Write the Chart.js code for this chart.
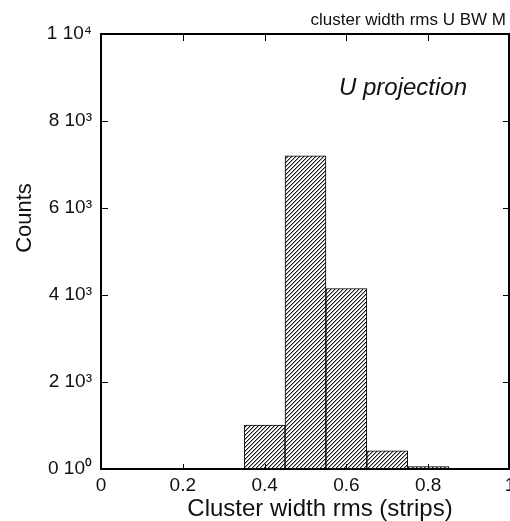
<!DOCTYPE html>
<html>
<head>
<meta charset="utf-8">
<script src="https://cdn.jsdelivr.net/npm/chart.js@4"></script>
<style>
  html, body { margin: 0; padding: 0; background: #fff; }
  #wrap { width: 510px; height: 521px; overflow: hidden; position: relative; }
  canvas { display: block; }
</style>
</head>
<body>
<div id="wrap"><canvas id="c" width="530" height="521"></canvas></div>
<script>
// ---- data ----
const binCenters = [0.4, 0.5, 0.6, 0.7, 0.8];
const counts = [1010, 7200, 4150, 415, 55];
const xTickValues = [0, 0.2, 0.4, 0.6, 0.8, 1];
const xTickLabels = ['0', '0.2', '0.4', '0.6', '0.8', '1'];
const yTickValues = [0, 2000, 4000, 6000, 8000, 10000];
const yTickLabels = ['0 10\u2070', '2 10\u00B3', '4 10\u00B3', '6 10\u00B3', '8 10\u00B3', '1 10\u2074'];
const chartTitle = 'cluster width rms U BW M';
const annotationText = 'U projection';
const xTitle = 'Cluster width rms (strips)';
const yTitle = 'Counts';

// hatch pattern ("/" diagonal lines)
function makeHatch() {
  const s = 4;
  const p = document.createElement('canvas');
  p.width = s; p.height = s;
  const g = p.getContext('2d');
  g.fillStyle = '#fff';
  g.fillRect(0, 0, s, s);
  for (let x = 0; x < s; x++) {
    for (let y = 0; y < s; y++) {
      const k = (x + y) % s;
      if (k === 3) { g.fillStyle = '#1a1a1a'; g.fillRect(x, y, 1, 1); }
      else if (k === 0) { g.fillStyle = '#a0a0a0'; g.fillRect(x, y, 1, 1); }
    }
  }
  return g.createPattern(p, 'repeat');
}
const ctx = document.getElementById('c').getContext('2d');
const hatch = makeHatch();

const FONT = '"Liberation Sans", Arial, Helvetica, sans-serif';

const framePlugin = {
  id: 'frame',
  afterDatasetsDraw(chart) {
    const { ctx, chartArea: a, scales } = chart;
    const xs = scales.x, ys = scales.y;
    const right = 509;
    ctx.save();
    ctx.strokeStyle = '#000';
    ctx.lineWidth = 1;
    ctx.beginPath();
    const tl = 7;
    xTickValues.forEach(v => {
      const px = Math.round(xs.getPixelForValue(v)) + 0.5;
      if (px > right - 2 || px < a.left + 2) return;
      ctx.moveTo(px, a.bottom); ctx.lineTo(px, a.bottom - 5);
      ctx.moveTo(px, a.top); ctx.lineTo(px, a.top + tl);
    });
    yTickValues.forEach(v => {
      const py = Math.round(ys.getPixelForValue(v)) + 0.5;
      if (py < a.top + 2 || py > a.bottom - 2) return;
      ctx.moveTo(a.left, py); ctx.lineTo(a.left + tl, py);
      ctx.moveTo(right, py); ctx.lineTo(right - 6, py);
    });
    ctx.stroke();
    ctx.lineWidth = 2;
    ctx.strokeRect(a.left, a.top, right - a.left, a.bottom - a.top);
    ctx.restore();
  }
};

const textPlugin = {
  id: 'texts',
  afterDraw(chart) {
    const { ctx } = chart;
    ctx.save();
    ctx.fillStyle = '#111';
    ctx.textBaseline = 'alphabetic';
    // top-right title
    ctx.font = '17px ' + FONT;
    ctx.textAlign = 'right';
    ctx.fillText(chartTitle, 506, 25);
    // annotation
    ctx.font = 'italic 24px ' + FONT;
    ctx.textAlign = 'left';
    ctx.fillText(annotationText, 339, 95);
    // x title
    ctx.font = '24px ' + FONT;
    ctx.textAlign = 'center';
    ctx.fillText(xTitle, 320, 516);
    // y title
    ctx.font = '22px ' + FONT;
    ctx.translate(31, 218);
    ctx.rotate(-Math.PI / 2);
    ctx.textAlign = 'center';
    ctx.fillText(yTitle, 0, 0);
    ctx.restore();
  }
};

new Chart(ctx, {
  type: 'bar',
  data: {
    datasets: [{
      data: binCenters.map((x, i) => ({ x: x, y: counts[i] })),
      backgroundColor: hatch,
      borderColor: '#000',
      borderWidth: 1,
      barPercentage: 1,
      categoryPercentage: 1
    }]
  },
  options: {
    responsive: false,
    devicePixelRatio: 1,
    animation: false,
    layout: { padding: { top: 34, right: 20, left: 0, bottom: 0 } },
    plugins: { legend: { display: false }, tooltip: { enabled: false }, title: { display: false } },
    scales: {
      x: {
        type: 'linear',
        min: 0, max: 1,
        offset: false,
        grid: { display: false, drawTicks: false },
        border: { display: false },
        afterBuildTicks(scale) { scale.ticks = xTickValues.map(v => ({ value: v })); },
        ticks: {
          font: { size: 19, family: FONT },
          color: '#111',
          padding: 5,
          maxRotation: 0,
          autoSkip: false,
          callback(v) { const i = xTickValues.indexOf(v); return i >= 0 ? xTickLabels[i] : ''; }
        },
        afterFit(scale) { scale.height = 52; }
      },
      y: {
        min: 0, max: 10000,
        grid: { display: false, drawTicks: false },
        border: { display: false },
        afterBuildTicks(scale) { scale.ticks = yTickValues.map(v => ({ value: v })); },
        ticks: {
          font: { size: 19, family: FONT },
          color: '#111',
          padding: 9,
          autoSkip: false,
          callback(v) { const i = yTickValues.indexOf(v); return i >= 0 ? yTickLabels[i] : ''; }
        },
        afterFit(scale) { scale.width = 101; }
      }
    }
  },
  plugins: [framePlugin, textPlugin]
});
</script>
</body>
</html>
